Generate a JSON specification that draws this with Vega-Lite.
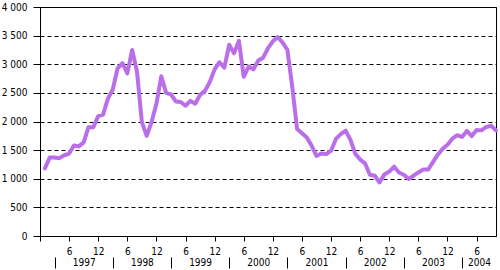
{
  "$schema": "https://vega.github.io/schema/vega-lite/v6.json",
  "width": 456,
  "height": 229,
  "autosize": "none",
  "padding": {"left": 40, "top": 7, "right": 4, "bottom": 34},
  "background": "white",
  "config": {
    "view": {"stroke": "black", "strokeWidth": 1},
    "font": "DejaVu Sans Condensed, DejaVu Sans",
    "axis": {
      "labelFont": "DejaVu Sans Condensed, DejaVu Sans",
      "labelFontSize": 10,
      "labelColor": "black",
      "domainColor": "black",
      "tickColor": "black",
      "grid": false,
      "title": null
    }
  },
  "datasets": {
    "series": [
      {"t": 0, "v": 1180}, {"t": 1, "v": 1370}, {"t": 2, "v": 1370}, {"t": 3, "v": 1360}, {"t": 4, "v": 1410},
      {"t": 5, "v": 1440}, {"t": 6, "v": 1580}, {"t": 7, "v": 1565}, {"t": 8, "v": 1635}, {"t": 9, "v": 1900},
      {"t": 10, "v": 1900}, {"t": 11, "v": 2095}, {"t": 12, "v": 2120}, {"t": 13, "v": 2400}, {"t": 14, "v": 2560},
      {"t": 15, "v": 2930}, {"t": 16, "v": 3020}, {"t": 17, "v": 2840}, {"t": 18, "v": 3250}, {"t": 19, "v": 2870},
      {"t": 20, "v": 1990}, {"t": 21, "v": 1750}, {"t": 22, "v": 1990}, {"t": 23, "v": 2310}, {"t": 24, "v": 2790},
      {"t": 25, "v": 2500}, {"t": 26, "v": 2475}, {"t": 27, "v": 2350}, {"t": 28, "v": 2340}, {"t": 29, "v": 2275},
      {"t": 30, "v": 2360}, {"t": 31, "v": 2310}, {"t": 32, "v": 2465}, {"t": 33, "v": 2535}, {"t": 34, "v": 2690},
      {"t": 35, "v": 2910}, {"t": 36, "v": 3035}, {"t": 37, "v": 2940}, {"t": 38, "v": 3340}, {"t": 39, "v": 3190},
      {"t": 40, "v": 3410}, {"t": 41, "v": 2780}, {"t": 42, "v": 2960}, {"t": 43, "v": 2910}, {"t": 44, "v": 3065},
      {"t": 45, "v": 3115}, {"t": 46, "v": 3280}, {"t": 47, "v": 3400}, {"t": 48, "v": 3475}, {"t": 49, "v": 3380},
      {"t": 50, "v": 3250}, {"t": 51, "v": 2605}, {"t": 52, "v": 1870}, {"t": 53, "v": 1795}, {"t": 54, "v": 1720},
      {"t": 55, "v": 1575}, {"t": 56, "v": 1400}, {"t": 57, "v": 1440}, {"t": 58, "v": 1430}, {"t": 59, "v": 1490},
      {"t": 60, "v": 1695}, {"t": 61, "v": 1780}, {"t": 62, "v": 1840}, {"t": 63, "v": 1680}, {"t": 64, "v": 1435},
      {"t": 65, "v": 1335}, {"t": 66, "v": 1270}, {"t": 67, "v": 1070}, {"t": 68, "v": 1053}, {"t": 69, "v": 935},
      {"t": 70, "v": 1076}, {"t": 71, "v": 1125}, {"t": 72, "v": 1210}, {"t": 73, "v": 1110}, {"t": 74, "v": 1070},
      {"t": 75, "v": 995}, {"t": 76, "v": 1053}, {"t": 77, "v": 1110}, {"t": 78, "v": 1160}, {"t": 79, "v": 1160},
      {"t": 80, "v": 1290}, {"t": 81, "v": 1420}, {"t": 82, "v": 1525}, {"t": 83, "v": 1595}, {"t": 84, "v": 1700},
      {"t": 85, "v": 1760}, {"t": 86, "v": 1730}, {"t": 87, "v": 1835}, {"t": 88, "v": 1745}, {"t": 89, "v": 1850},
      {"t": 90, "v": 1845}, {"t": 91, "v": 1905}, {"t": 92, "v": 1925}, {"t": 93, "v": 1845}
    ],
    "years": [
      {"year": "1997", "mid": 8, "sep": 2},
      {"year": "1998", "mid": 20, "sep": 14},
      {"year": "1999", "mid": 32, "sep": 26},
      {"year": "2000", "mid": 44, "sep": 38},
      {"year": "2001", "mid": 56, "sep": 50},
      {"year": "2002", "mid": 68, "sep": 62},
      {"year": "2003", "mid": 80, "sep": 74},
      {"year": "2004", "mid": 89.5, "sep": 86}
    ]
  },
  "layer": [
    {
      "data": {"name": "series"},
      "mark": {"type": "line", "color": "#BA6EEA", "strokeWidth": 4, "strokeJoin": "round", "strokeCap": "round"},
      "encoding": {
        "x": {
          "field": "t", "type": "quantitative",
          "scale": {"domain": [-1, 93], "nice": false, "zero": false},
          "axis": {
            "orient": "bottom",
            "values": [-1, 5, 11, 17, 23, 29, 35, 41, 47, 53, 59, 65, 71, 77, 83, 89],
            "labelExpr": "datum.value < 0 ? '' : ((datum.value + 1) % 12 == 0 ? '12' : '6')",
            "tickSize": 5, "labelPadding": 5, "labelFlush": false, "labelOverlap": false, "title": null
          }
        },
        "y": {
          "field": "v", "type": "quantitative",
          "scale": {"domain": [0, 4000], "nice": false},
          "axis": {
            "values": [0, 500, 1000, 1500, 2000, 2500, 3000, 3500, 4000],
            "grid": true, "gridColor": "black", "gridDash": [4, 3], "gridWidth": 1, "gridOpacity": 1,
            "tickSize": 7, "labelPadding": 6,
            "labelExpr": "replace(format(datum.value, ','), ',', ' ')",
            "title": null
          }
        }
      }
    },
    {
      "data": {"name": "years"},
      "mark": {"type": "point", "opacity": 0},
      "encoding": {
        "x": {
          "field": "mid", "type": "quantitative",
          "scale": {"domain": [-1, 93], "nice": false, "zero": false},
          "axis": {
            "orient": "bottom",
            "values": [8, 20, 32, 44, 56, 68, 80, 89.5],
            "labelExpr": "'' + (1996 + round((datum.value + 4) / 12))",
            "ticks": false, "domain": false, "labelPadding": 21,
            "labelFlush": false, "labelOverlap": false, "title": null
          }
        }
      }
    },
    {
      "data": {"name": "years"},
      "mark": {"type": "point", "opacity": 0},
      "encoding": {
        "x": {
          "field": "sep", "type": "quantitative",
          "scale": {"domain": [-1, 93], "nice": false, "zero": false},
          "axis": {
            "orient": "bottom",
            "values": [2, 14, 26, 38, 50, 62, 74, 86],
            "labels": false, "domain": false, "ticks": true, "tickSize": 11, "offset": 21,
            "title": null
          }
        }
      }
    }
  ],
  "resolve": {"scale": {"x": "independent"}}
}
